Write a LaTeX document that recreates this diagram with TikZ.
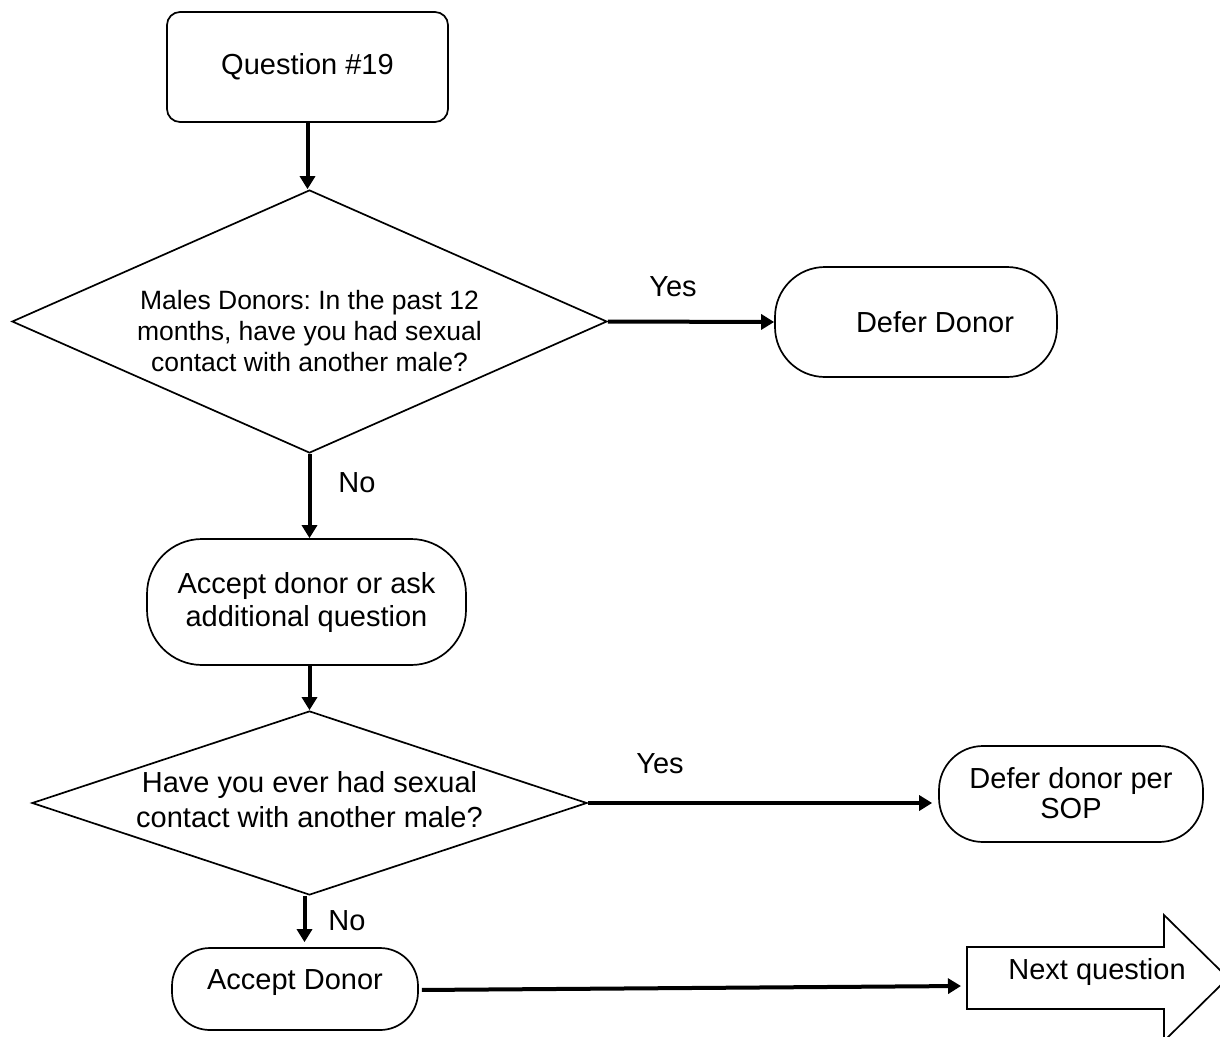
\documentclass[tikz,border=0pt]{standalone}
\usepackage{fontspec}
\setmainfont{Liberation Sans}
\usetikzlibrary{shapes.geometric,arrows.meta}
\tikzset{
  box/.style={draw, line width=1.7pt, rectangle, align=center, inner sep=0pt,
    font=\fontsize{29}{33}\selectfont\frenchspacing},
  dia/.style={draw, line width=1.7pt, diamond, align=center, inner sep=-10pt},
  conn/.style={line width=4pt, -{Triangle[length=13pt,width=15pt]}},
  lbl/.style={font=\fontsize{29}{33}\selectfont, inner sep=0pt},
}
\begin{document}
\begin{tikzpicture}[x=1pt,y=-1pt]
\useasboundingbox (0,0) rectangle (1220,1036);
\fill[white] (0,0) rectangle (1220,1036);
\clip (0,0) rectangle (1220,1036);

% nodes
\node[box, rounded corners=13pt, minimum width=281pt, minimum height=110pt]
  (q19) at (307.5,67) {Question \#19};
\node[dia, minimum width=595pt, minimum height=263pt, shape aspect=2.26,
  font=\fontsize{26.5}{31}\selectfont\frenchspacing]
  (d1) at (309.5,321.5) {\raisebox{-13pt}[\height][\depth]{\begin{tabular}{@{}c@{}}Males Donors: In the past 12\\ months, have you had sexual\\ contact with another male?\end{tabular}}};
\node[box, rounded corners=50pt, minimum width=282pt, minimum height=110pt]
  (defer1) at (916,322) {\hspace*{38pt}Defer Donor};
\node[box, rounded corners=55pt, minimum width=319pt, minimum height=126pt]
  (accept1) at (306.5,602) {Accept donor or ask\\additional question};
\node[dia, minimum width=555pt, minimum height=184pt, shape aspect=3.02,
  font=\fontsize{29}{35}\selectfont\frenchspacing]
  (d2) at (309.5,803) {\begin{tabular}{@{}c@{}}Have you ever had sexual\\[0pt]contact with another male?\end{tabular}};
\node[box, rounded corners=44pt, minimum width=264pt, minimum height=96pt]
  (defer2) at (1071,794) {\raisebox{-3pt}[\height][\depth]{\begin{tabular}{@{}c@{}}Defer donor per\\[-3pt]SOP\end{tabular}}};
\node[box, rounded corners=38pt, minimum width=246pt, minimum height=82pt,
  text height=21pt, text depth=21pt]
  (accept2) at (295,989) {Accept Donor};

% next question arrow shape
\draw[line width=1.7pt, line join=miter]
  (967,947) -- (1164,947) -- (1164,915) -- (1228,978) -- (1164,1041)
  -- (1164,1009) -- (967,1009) -- cycle;
\node[lbl] (nq) at (1097,972) {Next question};
\coordinate (nqin) at (961,986);

% connectors
\draw[conn] (q19.south) -- (q19.south |- d1.north);
\draw[conn] (d1.east) -- (defer1.west);
\draw[conn] (d1.south) -- (d1.south |- accept1.north);
\draw[conn] (d2.north |- accept1.south) -- (d2.north);
\draw[conn, shorten >=6pt] (d2.east) -- (d2.east -| defer2.west);
\draw[conn, shorten >=5pt] ([xshift=-5pt]d2.south) -- ([xshift=-5pt]d2.south |- accept2.north);
\draw[conn, shorten <=3pt] ([yshift=-1pt]accept2.east) -- (nqin);

% labels
\node[lbl] (yes1) at (673,287) {Yes};
\node[lbl] (no1) at (357,483) {No};
\node[lbl] (yes2) at (660,764) {Yes};
\node[lbl] (no2) at (347,921) {No};
\end{tikzpicture}
\end{document}
